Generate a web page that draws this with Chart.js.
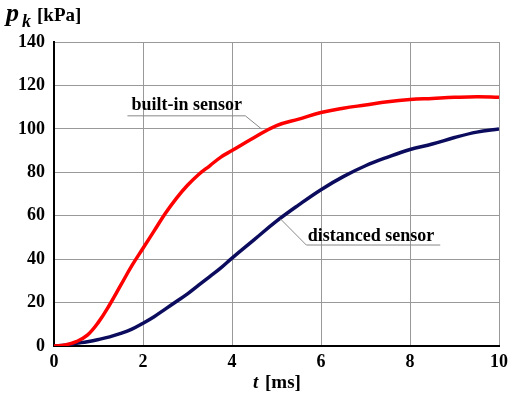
<!DOCTYPE html>
<html>
<head>
<meta charset="utf-8">
<script src="https://cdn.jsdelivr.net/npm/chart.js@4"></script>
<style>
  html, body { margin: 0; padding: 0; background: #fff; }
  #wrap { width: 514px; height: 395px; }
</style>
</head>
<body>
<div id="wrap"><canvas id="myChart" width="514" height="395"></canvas></div>
<script>
// time axis [ms]
const timeMs = [0, 0.25, 0.5, 0.75, 1, 1.25, 1.5, 1.75, 2, 2.25, 2.5, 2.75, 3, 3.25, 3.5, 3.75, 4, 4.5, 5, 5.5, 6, 6.5, 7, 7.5, 8, 8.5, 9, 9.5, 10];
// built-in sensor pressure [kPa]
const builtIn = [0, 0.5, 2, 5, 11, 19, 28, 37, 45, 53, 61, 68, 74, 79, 83, 87, 90, 96, 101.5, 104.5, 107.5, 109.5, 111, 112.5, 113.5, 114, 114.5, 114.8, 114.6];
// distanced sensor pressure [kPa]
const distanced = [0, 0.3, 1.2, 2, 3, 4.2, 5.8, 7.8, 10.5, 13.5, 17, 20.5, 24, 28, 32, 36, 40.5, 49, 57.5, 65, 72, 78, 83, 87, 90.5, 93, 96, 98.5, 100];
const xTicks = [0, 2, 4, 6, 8, 10];
const yTicks = [0, 20, 40, 60, 80, 100, 120, 140];

const serif = "'Liberation Serif', 'DejaVu Serif', serif";

function toPoints(ys) {
  return timeMs.map((t, i) => ({ x: t, y: ys[i] }));
}

// 주석 + 축 제목 그리기
const annotations = {
  id: "annotations",
  afterDraw: (chart) => {
    const ctx = chart.ctx;
    const xs = chart.scales.x;
    const ys = chart.scales.y;
    const px = (v) => xs.getPixelForValue(v);
    const py = (v) => ys.getPixelForValue(v);
    ctx.save();
    ctx.fillStyle = "#000";
    ctx.textBaseline = "alphabetic";
    ctx.textAlign = "left";

    // built-in sensor label
    ctx.font = "bold 18px " + serif;
    ctx.fillText("built-in sensor", px(1.74), py(108.5));
    ctx.strokeStyle = "#888";
    ctx.lineWidth = 1;
    ctx.beginPath();
    ctx.moveTo(px(1.65), py(106));
    ctx.lineTo(px(4.3), py(106));
    ctx.lineTo(px(4.66), py(100));
    ctx.stroke();

    // distanced sensor label
    ctx.fillText("distanced sensor", px(5.7), py(48.3));
    ctx.beginPath();
    ctx.moveTo(px(5.09), py(58.5));
    ctx.lineTo(px(5.67), py(46.5));
    ctx.lineTo(px(8.68), py(46.5));
    ctx.stroke();

    // y axis title: p_k [kPa]
    ctx.font = "italic bold 26px " + serif;
    ctx.fillText("p", 6, 21);
    ctx.font = "italic bold 18px " + serif;
    ctx.fillText("k", 22, 27);
    ctx.font = "bold 19px " + serif;
    ctx.fillText("[kPa]", 37, 21);

    // x axis title: t [ms]
    ctx.font = "italic bold 19px " + serif;
    ctx.fillText("t", 253, 388);
    ctx.font = "bold 19px " + serif;
    ctx.fillText("[ms]", 265, 388);
    ctx.restore();
  },
};

const ctx = document.getElementById("myChart").getContext("2d");
const chart = new Chart(ctx, {
  type: "line",
  data: {
    datasets: [
      {
        label: "built-in sensor",
        data: toPoints(builtIn),
        borderColor: "#ff0000",
        borderWidth: 3.5,
        pointRadius: 0,
        tension: 0.4,
        fill: false,
      },
      {
        label: "distanced sensor",
        data: toPoints(distanced),
        borderColor: "#0c0c5e",
        borderWidth: 3.5,
        pointRadius: 0,
        tension: 0.4,
        fill: false,
      },
    ],
  },
  options: {
    responsive: false,
    animation: false,
    layout: { padding: { top: 42, right: 12, left: 0, bottom: 0 } },
    plugins: {
      legend: { display: false },
      tooltip: { enabled: false },
    },
    scales: {
      x: {
        type: "linear",
        min: 0,
        max: 10,
        afterBuildTicks: (s) => { s.ticks = xTicks.map((v) => ({ value: v })); },
        afterFit: (s) => { s.height = 49; },
        grid: { color: "#999", lineWidth: 1, drawTicks: false },
        border: { color: "#000", width: 2 },
        ticks: {
          color: "#000",
          padding: 6,
          font: { family: serif, size: 18, weight: "bold" },
        },
      },
      y: {
        type: "linear",
        min: 0,
        max: 140,
        afterBuildTicks: (s) => { s.ticks = yTicks.map((v) => ({ value: v })); },
        afterFit: (s) => { s.width = 54; },
        grid: { color: "#999", lineWidth: 1, drawTicks: false },
        border: { color: "#000", width: 2 },
        ticks: {
          color: "#000",
          padding: 9,
          font: { family: serif, size: 18, weight: "bold" },
        },
      },
    },
  },
  plugins: [annotations],
});
</script>
</body>
</html>
